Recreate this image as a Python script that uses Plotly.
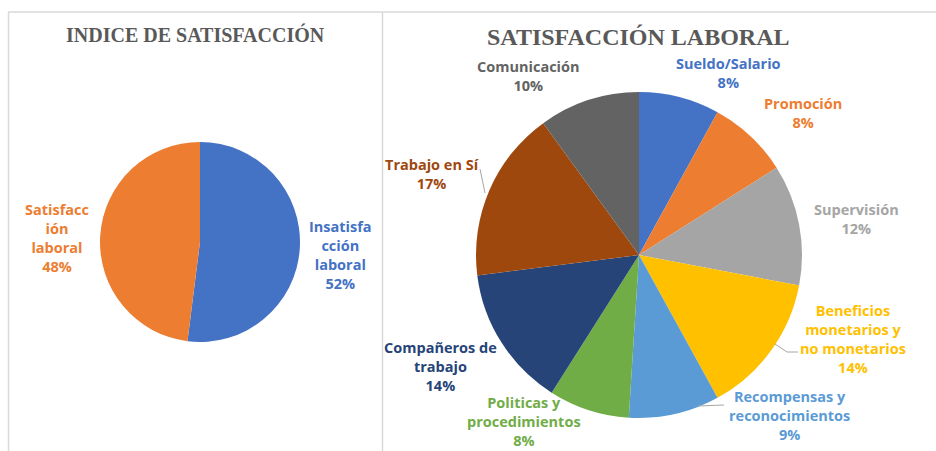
import plotly.graph_objects as go

W, H = 936, 451

# Left chart: overall satisfaction index
idx_labels = ["Insatisfacción laboral", "Satisfacción laboral"]
idx_values = [52, 48]
idx_colors = ["#4472C4", "#ED7D31"]
idx_text = ["Insatisfa<br>cción<br>laboral", "Satisfacc<br>ión<br>laboral"]

# Right chart: job satisfaction factors
fac_labels = ["Sueldo/Salario", "Promoción", "Supervisión",
              "Beneficios monetarios y no monetarios", "Recompensas y reconocimientos",
              "Politicas y procedimientos", "Compañeros de trabajo",
              "Trabajo en Sí", "Comunicación"]
fac_values = [8, 8, 12, 14, 9, 8, 14, 17, 10]
fac_colors = ["#4472C4", "#ED7D31", "#A5A5A5", "#FFC000", "#5B9BD5",
              "#70AD47", "#264478", "#9E480E", "#636363"]
fac_text = ["Sueldo/Salario", "Promoción", "Supervisión",
            "Beneficios<br>monetarios y<br>no monetarios", "Recompensas y<br>reconocimientos",
            "Politicas y<br>procedimientos", "Compañeros de<br>trabajo",
            "Trabajo en Sí", "Comunicación"]

def px_x(x):
    return x / W

def px_y(y):
    return 1 - y / H

def domain(cx, cy, r):
    return dict(x=[px_x(cx - r), px_x(cx + r)], y=[px_y(cy + r), px_y(cy - r)])

fig = go.Figure()
fig.add_trace(go.Pie(
    labels=idx_labels, values=idx_values, sort=False, direction="clockwise",
    marker=dict(colors=idx_colors, line=dict(width=0)),
    textinfo="none", hoverinfo="label+percent", showlegend=False,
    domain=domain(200, 242, 100),
))
fig.add_trace(go.Pie(
    labels=fac_labels, values=fac_values, sort=False, direction="clockwise",
    marker=dict(colors=fac_colors, line=dict(width=0)),
    textinfo="none", hoverinfo="label+percent", showlegend=False,
    domain=domain(639, 255, 163),
))

LABEL_FONT = "'Open Sans', Lato, sans-serif"

def add_label(text, value, color, x, y):
    fig.add_annotation(
        x=px_x(x), y=px_y(y), xref="paper", yref="paper",
        text=f"<b>{text}<br>{value}%</b>", showarrow=False,
        font=dict(family=LABEL_FONT, size=14.5, color=color),
        align="center", xanchor="center", yanchor="middle",
    )

# label positions (pixel centres of each text block)
idx_pos = [(340, 255), (57, 238)]
for t, v, c, (x, y) in zip(idx_text, idx_values, idx_colors, idx_pos):
    add_label(t, v, c, x, y)

fac_pos = [(728, 73), (803, 113), (856, 219), (853, 339), (789, 415),
           (524, 421), (440, 366), (432, 174), (528, 76)]
for t, v, c, (x, y) in zip(fac_text, fac_values, fac_colors, fac_pos):
    add_label(t, v, c, x, y)

# leader lines
leaders = [
    [(480, 169), (485, 193)],
    [(775, 344), (787, 352), (798, 352)],
    [(698, 406), (724, 405)],
]
for pts in leaders:
    path = "M " + " L ".join(f"{px_x(x)},{px_y(y)}" for x, y in pts)
    fig.add_shape(type="path", path=path, xref="paper", yref="paper",
                  line=dict(color="#A6A6A6", width=1))

# chart frames
frame = dict(color="#D9D9D9", width=1.5)
fig.add_shape(type="line", xref="paper", yref="paper",
              x0=px_x(8), x1=1, y0=px_y(12), y1=px_y(12), line=frame)
fig.add_shape(type="line", xref="paper", yref="paper",
              x0=px_x(8.5), x1=px_x(8.5), y0=px_y(12), y1=0, line=frame)
fig.add_shape(type="line", xref="paper", yref="paper",
              x0=px_x(382.5), x1=px_x(382.5), y0=px_y(12), y1=0, line=frame)

TITLE_FONT = "'Liberation Serif', 'Times New Roman', serif"
fig.add_annotation(x=px_x(195), y=px_y(34), xref="paper", yref="paper",
                   text="<b>INDICE DE SATISFACCIÓN</b>", showarrow=False,
                   font=dict(family=TITLE_FONT, size=20, color="#595959"),
                   xanchor="center", yanchor="middle")
fig.add_annotation(x=px_x(638), y=px_y(37), xref="paper", yref="paper",
                   text="<b>SATISFACCIÓN LABORAL</b>", showarrow=False,
                   font=dict(family=TITLE_FONT, size=24, color="#595959"),
                   xanchor="center", yanchor="middle")

fig.update_layout(
    width=W, height=H, margin=dict(l=0, r=0, t=0, b=0),
    paper_bgcolor="white", plot_bgcolor="white",
)
fig.write_html("out.html")
